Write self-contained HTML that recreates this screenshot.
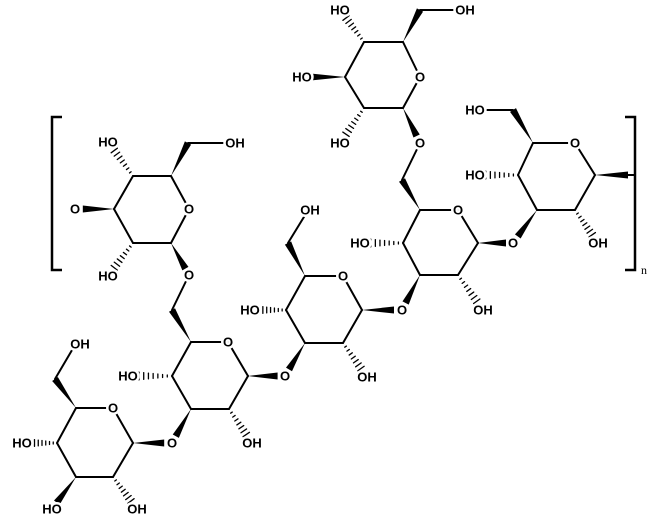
<!DOCTYPE html>
<html><head><meta charset="utf-8"><style>
html,body{margin:0;padding:0;background:#fff;width:650px;height:518px;overflow:hidden}
text{font-family:"Liberation Sans",sans-serif;font-weight:bold;font-size:13px;fill:#000;stroke:#fff;stroke-width:5px;paint-order:stroke;text-anchor:middle;dominant-baseline:central}
</style></head><body>
<svg id="s" width="650" height="518" viewBox="0 0 650 518" xmlns="http://www.w3.org/2000/svg">
<g id="b" stroke="#000" stroke-width="2" fill="#000" stroke-linecap="round"></g>
<!-- brackets -->
<path d="M62,117 H52 V270 H62" fill="none" stroke="#000" stroke-width="2.5"/>
<path d="M625,117 H635 V270 H625" fill="none" stroke="#000" stroke-width="2.5"/>
<g id="t">
<text x="108" y="142">HO</text><text x="235" y="143">OH</text><text x="75" y="209">O</text>
<text x="189" y="209">O</text><text x="108" y="276">HO</text><text x="189" y="275">O</text>
<text x="128" y="376">HO</text><text x="172" y="443">O</text><text x="252" y="443">OH</text>
<text x="285" y="376">O</text><text x="228" y="342">O</text>
<text x="80" y="344">OH</text><text x="113" y="408">O</text><text x="22" y="443">HO</text>
<text x="52" y="509">HO</text><text x="137" y="509">OH</text>
<text x="310" y="210">OH</text><text x="343" y="276">O</text><text x="250" y="310">HO</text>
<text x="367" y="377">OH</text><text x="402" y="310">O</text>
<text x="420" y="143">O</text><text x="458" y="210">O</text><text x="360" y="243">HO</text>
<text x="483" y="310">OH</text><text x="513" y="243">O</text>
<text x="340" y="10">HO</text><text x="465" y="10">OH</text><text x="302" y="77">HO</text>
<text x="420" y="77">O</text><text x="340" y="143">HO</text>
<text x="475" y="110">HO</text><text x="575" y="143">O</text><text x="475" y="175">HO</text>
<text x="598" y="243">OH</text>
<text x="644" y="270" style="font-weight:normal;font-family:'Liberation Serif',serif;font-size:12px">n</text>
</g>
</svg>
<script>
var g=document.getElementById('b'),NS='http://www.w3.org/2000/svg';
function el(n,a){var e=document.createElementNS(NS,n);for(var k in a)e.setAttribute(k,a[k]);g.appendChild(e);}
function L(a,b){el('line',{x1:a[0],y1:a[1],x2:b[0],y2:b[1]});}
function sh(a,b,f){var dx=b[0]-a[0],dy=b[1]-a[1],d=Math.hypot(dx,dy);return [a[0]+dx*f,a[1]+dy*f];}
function W(a,b){var e=sh(a,b,0.8);var dx=b[0]-a[0],dy=b[1]-a[1],d=Math.hypot(dx,dy),nx=-dy/d*3.5,ny=dx/d*3.5;
el('polygon',{points:a[0]+','+a[1]+' '+(e[0]+nx)+','+(e[1]+ny)+' '+(e[0]-nx)+','+(e[1]-ny),stroke:'none'});}
function Wf(a,b){var dx=b[0]-a[0],dy=b[1]-a[1],d=Math.hypot(dx,dy),nx=-dy/d*3.5,ny=dx/d*3.5;
el('polygon',{points:a[0]+','+a[1]+' '+(b[0]+nx)+','+(b[1]+ny)+' '+(b[0]-nx)+','+(b[1]-ny),stroke:'none'});}
function H(a,b){var dx=b[0]-a[0],dy=b[1]-a[1],d=Math.hypot(dx,dy),ux=-dy/d,uy=dx/d;
for(var i=1;i<=7;i++){var f=i/7*0.75,w=0.5+f*4.5,x=a[0]+dx*f,y=a[1]+dy*f;
el('line',{x1:x+ux*w,y1:y+uy*w,x2:x-ux*w,y2:y-uy*w,'stroke-width':1.3});}}
function ring(p){for(var i=0;i<6;i++)L(p[i],p[(i+1)%6]);}
// Ring A
var A=[[133,176],[171,176],[189,209],[171,243],[133,243],[114,209]];ring(A);
H(A[0],[108,142]);Wf(A[1],[188,143]);L([188,143],[230,143]);W(A[5],[75,209]);H(A[4],[108,276]);W(A[3],[189,275]);L([189,275],[172,310]);
// Ring B
var B=[[172,376],[191,342],[228,342],[248,376],[229,409],[191,409]];ring(B);
Wf(B[1],[172,310]);H(B[0],[128,376]);W(B[5],[172,443]);H(B[4],[252,443]);W(B[3],[285,376]);
// Ring C
var C=[[57,443],[76,408],[113,408],[133,443],[113,477],[76,477]];ring(C);
Wf(C[1],[55,379]);L([55,379],[75,345]);H(C[0],[22,443]);W(C[5],[52,509]);H(C[4],[137,509]);W(C[3],[172,443]);
// Ring D
var D=[[286,310],[305,276],[343,276],[362,310],[343,343],[305,343]];ring(D);
Wf(D[1],[288,243]);L([288,243],[307,212]);H(D[0],[250,310]);W(D[5],[285,376]);H(D[4],[367,377]);W(D[3],[402,310]);
// Ring E
var E=[[403,243],[420,210],[458,210],[478,243],[458,275],[420,275]];ring(E);
Wf(E[1],[402,180]);L([402,180],[420,143]);H(E[0],[360,243]);W(E[5],[402,310]);H(E[4],[483,310]);W(E[3],[513,243]);
// Ring F
var F=[[345,77],[364,42],[403,42],[420,77],[403,108],[364,108]];ring(F);
H(F[1],[340,10]);Wf(F[2],[420,10]);L([420,10],[460,10]);W(F[0],[302,77]);H(F[5],[340,143]);W(F[4],[420,143]);
// Ring G
var G=[[518,175],[533,143],[575,143],[595,175],[575,210],[537,210]];ring(G);
Wf(G[1],[513,110]);L([513,110],[478,110]);H(G[0],[475,175]);W(G[5],[513,243]);H(G[4],[598,243]);Wf(G[3],[628,175]);L([628,175],[635,175]);
</script>
</body></html>
